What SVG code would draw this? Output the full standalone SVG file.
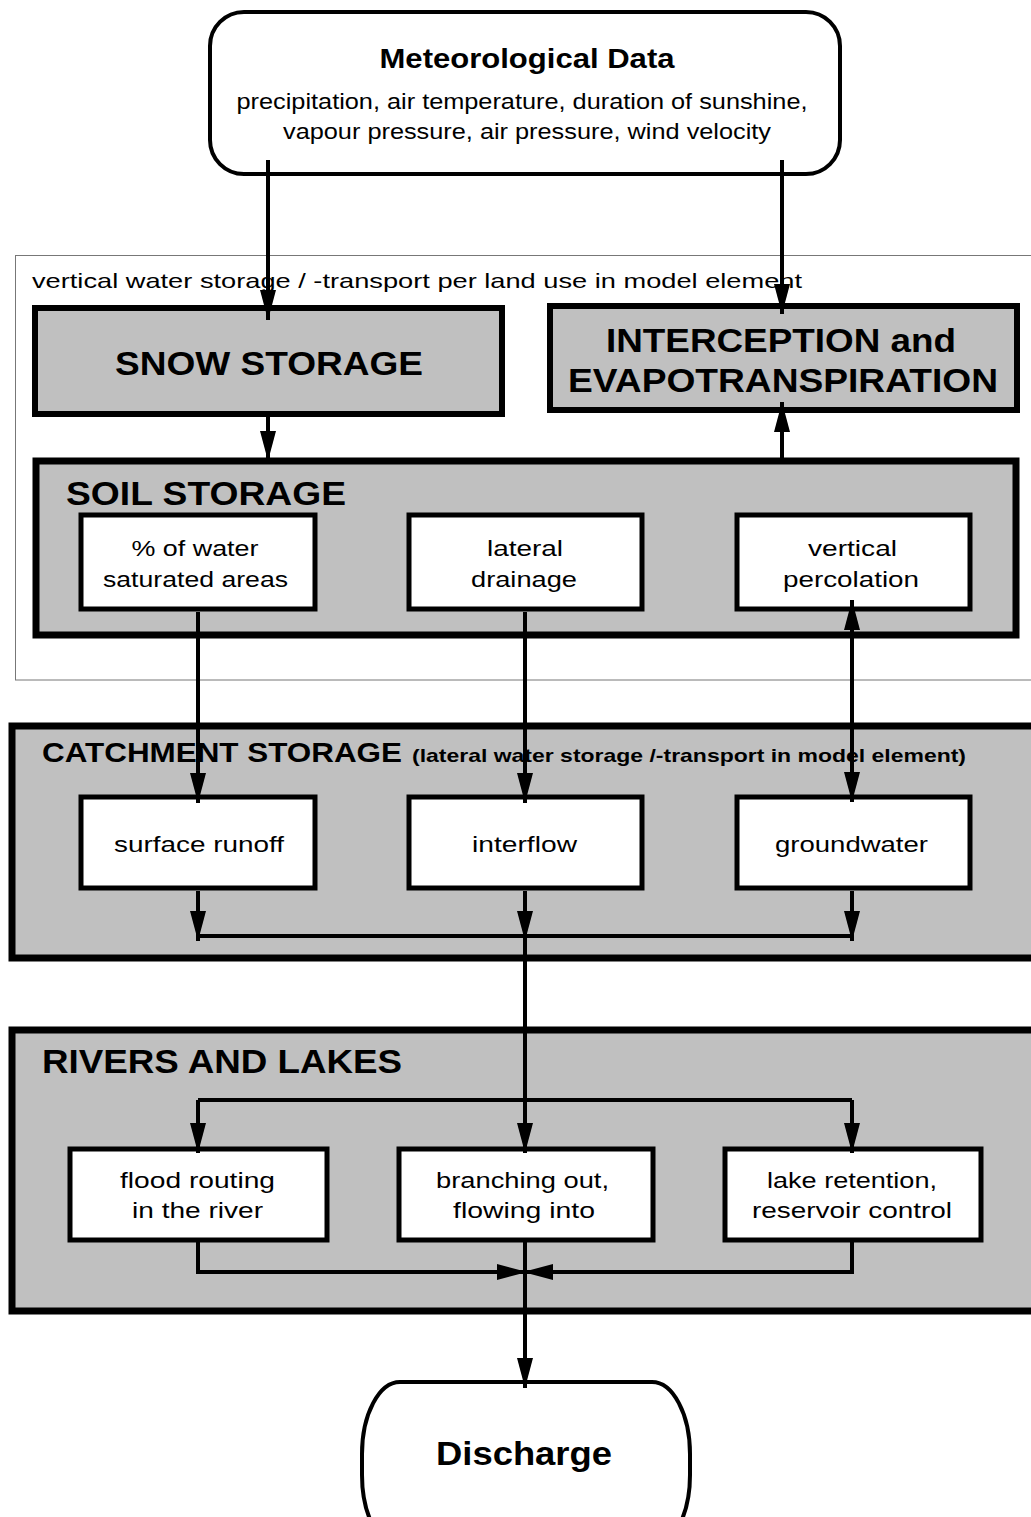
<svg xmlns="http://www.w3.org/2000/svg" width="1031" height="1517" viewBox="0 0 1031 1517">
<style>
text{font-family:"Liberation Sans",Arial,sans-serif;fill:#000}
.b{font-weight:bold}
.big{font-size:34px;font-weight:bold}
.sm{font-size:22px}
.outer{fill:#c0c0c0;stroke:#000;stroke-width:7}
.mid{fill:#c0c0c0;stroke:#000;stroke-width:6}
.inner{fill:#fff;stroke:#000;stroke-width:5}
.c{fill:none;stroke:#000;stroke-width:4}
</style>
<defs>
<marker id="ah" markerUnits="userSpaceOnUse" markerWidth="30" markerHeight="16" viewBox="0 0 30 16" refX="30" refY="8" orient="auto-start-reverse">
<path d="M0,0 L30,8 L0,16 z" fill="#000"/>
</marker>
</defs>
<rect width="1031" height="1517" fill="#fff"/>
<g id="region-vertical">
<rect x="15.5" y="255.5" width="1030" height="424.5" fill="none" stroke="#777" stroke-width="1"/>
<text x="32" y="288" font-size="21" textLength="770" lengthAdjust="spacingAndGlyphs">vertical water storage / -transport per land use in model element</text>
</g>
<g id="met-data">
<rect x="210" y="12" width="630" height="162" rx="34" fill="#fff" stroke="#000" stroke-width="4"/>
<text class="b" x="527" y="68" font-size="28" text-anchor="middle" textLength="295" lengthAdjust="spacingAndGlyphs">Meteorological Data</text>
<text x="522" y="109" font-size="22" text-anchor="middle" textLength="571" lengthAdjust="spacingAndGlyphs">precipitation, air temperature, duration of sunshine,</text>
<text x="527" y="139" font-size="22" text-anchor="middle" textLength="488" lengthAdjust="spacingAndGlyphs">vapour pressure, air pressure, wind velocity</text>
</g>
<g id="snow-storage">
<rect class="mid" x="35" y="308" width="467" height="106"/>
<text class="big" x="269" y="375" text-anchor="middle" textLength="308" lengthAdjust="spacingAndGlyphs">SNOW STORAGE</text>
</g>
<g id="interception">
<rect class="mid" x="550" y="306" width="467" height="104"/>
<text class="b" x="781" y="352" font-size="33" text-anchor="middle" textLength="350" lengthAdjust="spacingAndGlyphs">INTERCEPTION and</text>
<text class="b" x="783" y="392" font-size="33" text-anchor="middle" textLength="430" lengthAdjust="spacingAndGlyphs">EVAPOTRANSPIRATION</text>
</g>
<g id="soil-storage">
<rect class="outer" x="36" y="461" width="980" height="174"/>
<text class="big" x="66" y="505" textLength="280" lengthAdjust="spacingAndGlyphs">SOIL STORAGE</text>
</g>
<g id="saturated-areas">
<rect class="inner" x="81" y="515" width="234" height="94"/>
<text class="sm" x="195" y="556" text-anchor="middle" textLength="127" lengthAdjust="spacingAndGlyphs">% of water</text>
<text class="sm" x="195.5" y="587" text-anchor="middle" textLength="185" lengthAdjust="spacingAndGlyphs">saturated areas</text>
</g>
<g id="lateral-drainage">
<rect class="inner" x="409" y="515" width="233" height="94"/>
<text class="sm" x="525" y="556" text-anchor="middle" textLength="76" lengthAdjust="spacingAndGlyphs">lateral</text>
<text class="sm" x="524" y="587" text-anchor="middle" textLength="106" lengthAdjust="spacingAndGlyphs">drainage</text>
</g>
<g id="vertical-percolation">
<rect class="inner" x="737" y="515" width="233" height="94"/>
<text class="sm" x="852.5" y="556" text-anchor="middle" textLength="89" lengthAdjust="spacingAndGlyphs">vertical</text>
<text class="sm" x="851" y="587" text-anchor="middle" textLength="136" lengthAdjust="spacingAndGlyphs">percolation</text>
</g>
<g id="catchment-storage">
<rect class="outer" x="12" y="726" width="1030" height="232"/>
<text class="b" x="42" y="762" font-size="28" textLength="360" lengthAdjust="spacingAndGlyphs">CATCHMENT STORAGE</text>
<text class="b" x="412" y="762" font-size="19" textLength="554" lengthAdjust="spacingAndGlyphs">(lateral water storage /-transport in model element)</text>
</g>
<g id="surface-runoff">
<rect class="inner" x="81" y="797" width="234" height="91"/>
<text class="sm" x="199" y="852" text-anchor="middle" textLength="170" lengthAdjust="spacingAndGlyphs">surface runoff</text>
</g>
<g id="interflow">
<rect class="inner" x="409" y="797" width="233" height="91"/>
<text class="sm" x="524.5" y="852" text-anchor="middle" textLength="105" lengthAdjust="spacingAndGlyphs">interflow</text>
</g>
<g id="groundwater">
<rect class="inner" x="737" y="797" width="233" height="91"/>
<text class="sm" x="851.5" y="852" text-anchor="middle" textLength="153" lengthAdjust="spacingAndGlyphs">groundwater</text>
</g>
<g id="rivers-lakes">
<rect class="outer" x="12" y="1030" width="1030" height="281"/>
<text class="big" x="42" y="1073" textLength="360" lengthAdjust="spacingAndGlyphs">RIVERS AND LAKES</text>
</g>
<g id="flood-routing">
<rect class="inner" x="70" y="1149" width="257" height="91"/>
<text class="sm" x="197.5" y="1188" text-anchor="middle" textLength="155" lengthAdjust="spacingAndGlyphs">flood routing</text>
<text class="sm" x="197.5" y="1218" text-anchor="middle" textLength="131" lengthAdjust="spacingAndGlyphs">in the river</text>
</g>
<g id="branching">
<rect class="inner" x="399" y="1149" width="254" height="91"/>
<text class="sm" x="522.5" y="1188" text-anchor="middle" textLength="173" lengthAdjust="spacingAndGlyphs">branching out,</text>
<text class="sm" x="524" y="1218" text-anchor="middle" textLength="142" lengthAdjust="spacingAndGlyphs">flowing into</text>
</g>
<g id="lake-retention">
<rect class="inner" x="725" y="1149" width="256" height="91"/>
<text class="sm" x="852" y="1188" text-anchor="middle" textLength="170" lengthAdjust="spacingAndGlyphs">lake retention,</text>
<text class="sm" x="852" y="1218" text-anchor="middle" textLength="200" lengthAdjust="spacingAndGlyphs">reservoir control</text>
</g>
<g id="discharge">
<rect x="362" y="1382" width="328" height="165" rx="38" ry="72" fill="#fff" stroke="#000" stroke-width="4"/>
<text class="big" x="524" y="1465" text-anchor="middle" textLength="176" lengthAdjust="spacingAndGlyphs">Discharge</text>
</g>
<g id="connectors">
<path class="c" d="M268,160 V320" marker-end="url(#ah)"/>
<path class="c" d="M782,160 V314" marker-end="url(#ah)"/>
<path class="c" d="M268,414 V461" marker-end="url(#ah)"/>
<path class="c" d="M782,461 V402" marker-end="url(#ah)"/>
<path class="c" d="M198,612 V803" marker-end="url(#ah)"/>
<path class="c" d="M525,612 V803" marker-end="url(#ah)"/>
<path class="c" d="M852,600 V802" marker-start="url(#ah)" marker-end="url(#ah)"/>
<path class="c" d="M198,891 V941" marker-end="url(#ah)"/>
<path class="c" d="M525,891 V941" marker-end="url(#ah)"/>
<path class="c" d="M852,891 V941" marker-end="url(#ah)"/>
<path class="c" d="M198,936 H852"/>
<path class="c" d="M525,936 V1153" marker-end="url(#ah)"/>
<path class="c" d="M198,1100 H852"/>
<path class="c" d="M198,1100 V1153" marker-end="url(#ah)"/>
<path class="c" d="M852,1100 V1153" marker-end="url(#ah)"/>
<path class="c" d="M198,1241 V1272 H527" marker-end="url(#ah)"/>
<path class="c" d="M852,1241 V1272 H523" marker-end="url(#ah)"/>
<path class="c" d="M525,1241 V1388" marker-end="url(#ah)"/>
</g>
</svg>
